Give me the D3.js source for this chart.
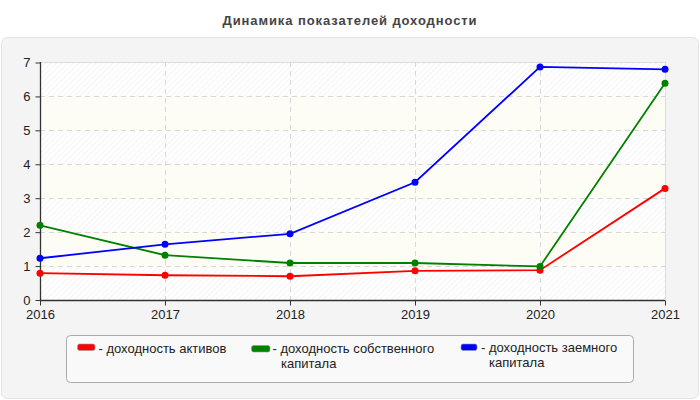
<!DOCTYPE html>
<html><head><meta charset="utf-8">
<script src="https://cdn.jsdelivr.net/npm/d3@7"></script>
<style>body{margin:0;background:#fff}svg{display:block}</style>
</head><body>
<svg id="c" width="700" height="400"></svg>
<script>
const years = ["2016","2017","2018","2019","2020","2021"];
const assetsReturn = [0.79, 0.73, 0.70, 0.86, 0.88, 3.29];
const equityReturn = [2.20, 1.32, 1.09, 1.09, 0.99, 6.39];
const debtReturn = [1.23, 1.64, 1.95, 3.47, 6.87, 6.80];
const yTicks = [0,1,2,3,4,5,6,7];
const seriesLines = [["- доходность активов"], ["- доходность собственного", "капитала"], ["- доходность заемного", "капитала"]];
const colors = ["#ff0000", "#008000", "#0000ff"];
const series = [assetsReturn, equityReturn, debtReturn];

const svg = d3.select("#c");
const font = "'Liberation Sans', Arial, sans-serif";

const defs = svg.append("defs");
const pat = defs.append("pattern").attr("id","hatch").attr("patternUnits","userSpaceOnUse")
  .attr("width",4).attr("height",4).attr("patternTransform","rotate(45)");
pat.append("rect").attr("width",4).attr("height",4).attr("fill","#ffffff");
pat.append("line").attr("x1",0).attr("y1",0).attr("x2",0).attr("y2",4).attr("stroke","#ededed").attr("stroke-width",1.2);

// panel
svg.append("rect").attr("x",1.5).attr("y",37.5).attr("width",697).attr("height",361).attr("rx",6)
  .attr("fill","#f4f4f4").attr("stroke","#e2e2e2");

svg.append("text").attr("x",350).attr("y",25).attr("text-anchor","middle")
  .attr("font-family",font).attr("font-size",13).attr("font-weight","bold").attr("fill","#444")
  .attr("letter-spacing",0.9)
  .text("Динамика показателей доходности");

const x = d3.scalePoint().domain(years).range([40,665]);
const y = d3.scaleLinear().domain([0,7]).range([300,62.5]);

// bands
const g = svg.append("g");
for (let i=0;i<7;i++){
  g.append("rect").attr("x",40).attr("width",625).attr("y",y(i+1)).attr("height",y(i)-y(i+1))
   .attr("fill", i%2===0 ? "url(#hatch)" : "#fdfdf6");
}
g.append("line").attr("x1",40).attr("x2",665).attr("y1",62.5).attr("y2",62.5).attr("stroke","#dcdcdc");
g.append("line").attr("x1",665.5).attr("x2",665.5).attr("y1",62).attr("y2",300).attr("stroke","#dcdcdc");

// grid
g.selectAll(".hg").data(yTicks.slice(1,7)).join("line")
  .attr("x1",40).attr("x2",665).attr("y1",d=>Math.round(y(d))+0.5).attr("y2",d=>Math.round(y(d))+0.5)
  .attr("stroke","#d8d8d8").attr("stroke-dasharray","5,4");
g.selectAll(".vg").data(years.slice(1,5)).join("line")
  .attr("y1",62).attr("y2",300).attr("x1",d=>Math.round(x(d))+0.5).attr("x2",d=>Math.round(x(d))+0.5)
  .attr("stroke","#d8d8d8").attr("stroke-dasharray","5,4");

// axes
const ya = svg.append("g").attr("transform","translate(40.5,0)")
  .call(d3.axisLeft(y).tickValues(yTicks).tickSize(5).tickPadding(5).tickFormat(d3.format("d")));
const xa = svg.append("g").attr("transform","translate(0,300.5)")
  .call(d3.axisBottom(x).tickSize(5).tickPadding(4));
[ya,xa].forEach(a=>{
  a.select(".domain").attr("stroke","#333").attr("stroke-width",1.3);
  a.selectAll(".tick line").attr("stroke","#333");
  a.selectAll("text").attr("font-family",font).attr("font-size",13).attr("fill","#222");
});
ya.select(".domain").attr("d","M0,62V300");
xa.select(".domain").attr("d","M40,0H665");

// lines
const line = d3.line().x((d,i)=>x(years[i])).y(d=>y(d));
series.forEach((s,k)=>{
  svg.append("path").datum(s).attr("d",line).attr("fill","none").attr("stroke",colors[k]).attr("stroke-width",1.8);
  svg.selectAll(".pt"+k).data(s).join("circle").attr("cx",(d,i)=>x(years[i])).attr("cy",d=>y(d)).attr("r",3.5).attr("fill",colors[k]);
});

// legend
svg.append("rect").attr("x",66.5).attr("y",335.5).attr("width",567).attr("height",47).attr("rx",4)
  .attr("fill","#f9f9f9").attr("stroke","#aaaaaa");
const swX = [77.5, 251.5, 461];
const swY = [344, 345.5, 344];
const swW = [17.5, 18.5, 16];
const txX = [98.5, 272.5, 481];
const tx2X = [106, 281, 489];
const txY = [352.5, 353, 352];
seriesLines.forEach((lines,k)=>{
  svg.append("rect").attr("x",swX[k]).attr("y",swY[k]).attr("width",swW[k]).attr("height",6.5).attr("rx",2)
    .attr("fill",colors[k]).attr("stroke","#999").attr("stroke-width",0.6);
  lines.forEach((ln,j)=>{
    svg.append("text").attr("font-family",font).attr("font-size",13).attr("fill","#222")
      .attr("x", j===0 ? txX[k] : tx2X[k]).attr("y", txY[k]+j*14.7).text(ln);
  });
});
</script>
</body></html>
